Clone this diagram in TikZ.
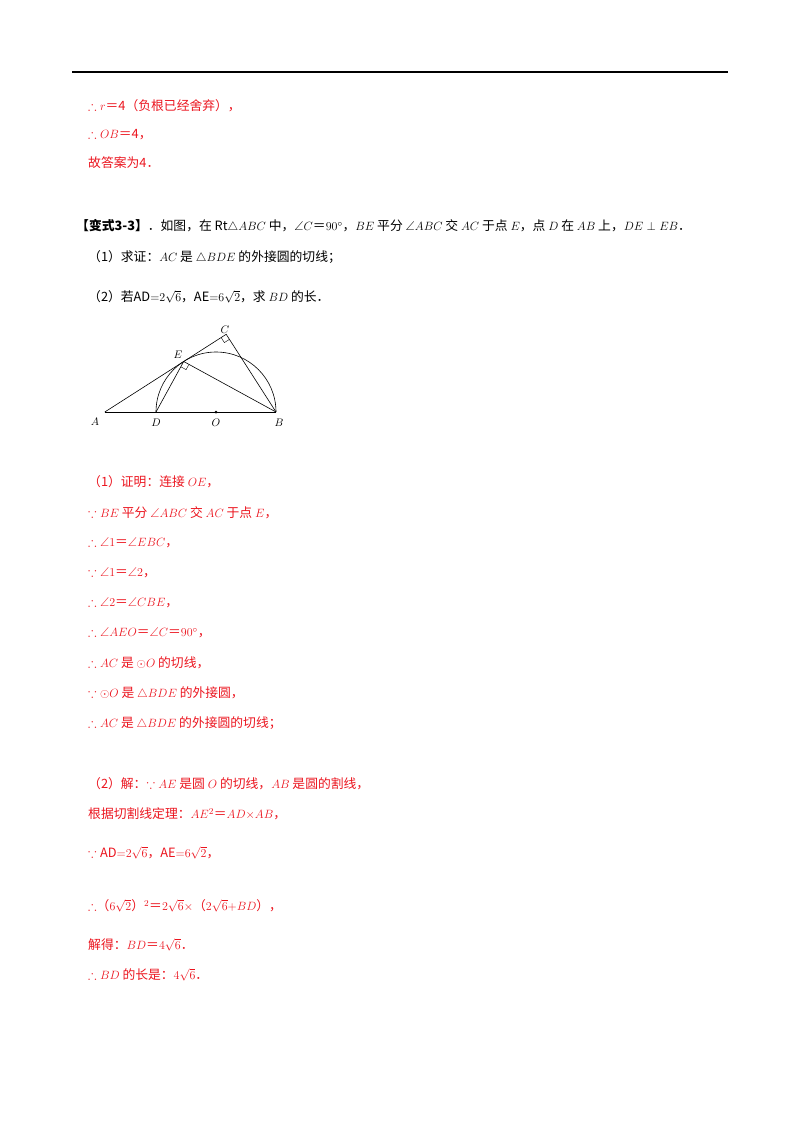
\documentclass[tikz,border=0pt]{standalone}
\usepackage{amssymb}
\usepackage{fontspec}
\setmainfont{Noto Sans CJK SC}
\usetikzlibrary{calc}
\definecolor{ansred}{RGB}{235,20,30}

\begin{document}
\begin{tikzpicture}[x=1pt,y=1pt,
  line/.style={anchor=west,inner sep=0pt,font=\fontsize{12.8}{14}\selectfont},
  ans/.style={line,text=ansred},
  lbl/.style={font=\fontsize{11}{12}\selectfont}]
  \useasboundingbox (0,0) rectangle (800,-1132);

  %--- header rule and previous answer ---
  \draw[line width=1.6pt] (72,-72) -- (728,-72);
  \node[ans] (p1) at (88,-106) {$\therefore r$＝4（负根已经舍弃），};
  \node[ans] (p2) at (88,-135) {$\therefore OB$＝4，};
  \node[ans] (p3) at (88,-163) {故答案为4．};

  %--- problem ---
  \node[line] (q0) at (76,-226) {\textbf{【变式3-3】}．如图，在 $\mathrm{Rt}\triangle ABC$ 中，$\angle C$＝$90^\circ$，$BE$ 平分 $\angle ABC$ 交 $AC$ 于点 $E$，点 $D$ 在 $AB$ 上，$DE\perp EB$．};
  \node[line] (q1) at (88,-257) {（1）求证：$AC$ 是 $\triangle BDE$ 的外接圆的切线；};
  \node[line] (q2) at (88,-297) {（2）若$\mathrm{AD}{=}2\sqrt{6}$，$\mathrm{AE}{=}6\sqrt{2}$，求 $BD$ 的长．};

  %--- figure ---
  \coordinate (O) at (216,-412);
  \coordinate (D) at (156,-412);
  \coordinate (B) at (276,-412);
  \coordinate (E) at (183.7,-361.5);
  \coordinate (A) at (104.8,-412);
  \coordinate (C) at (226.2,-334.3);
  \draw[semithick] (A) -- (B);
  \draw[semithick] (A) -- (C) -- (B);
  \draw[semithick] (D) -- (E) -- (B);
  \draw[semithick] (D) arc (180:0:60);
  \fill (O) circle (1.5);
  \draw ($(E)!6pt!(D)$) -- ($(E)!6pt!(D)+(E)!6pt!(B)-(E)$) -- ($(E)!6pt!(B)$);
  \draw ($(C)!6pt!(A)$) -- ($(C)!6pt!(A)+(C)!6pt!(B)-(C)$) -- ($(C)!6pt!(B)$);
  \node[lbl] at (95,-422) {$A$};
  \node[lbl] at (156,-423) {$D$};
  \node[lbl] at (216,-423) {$O$};
  \node[lbl] at (279,-423) {$B$};
  \node[lbl] at (178,-355) {$E$};
  \node[lbl] at (225,-330) {$C$};

  %--- proof (1) ---
  \node[ans] (a1) at (88,-482) {（1）证明：连接 $OE$，};
  \node[ans] (a2) at (88,-513) {$\because BE$ 平分 $\angle ABC$ 交 $AC$ 于点 $E$，};
  \node[ans] (a3) at (88,-543) {$\therefore\angle1$＝$\angle EBC$，};
  \node[ans] (a4) at (88,-573) {$\because\angle1$＝$\angle2$，};
  \node[ans] (a5) at (88,-603) {$\therefore\angle2$＝$\angle CBE$，};
  \node[ans] (a6) at (88,-633) {$\therefore\angle AEO$＝$\angle C$＝$90^\circ$，};
  \node[ans] (a7) at (88,-663) {$\therefore AC$ 是 $\odot O$ 的切线，};
  \node[ans] (a8) at (88,-693) {$\because\odot O$ 是 $\triangle BDE$ 的外接圆，};
  \node[ans] (a9) at (88,-723) {$\therefore AC$ 是 $\triangle BDE$ 的外接圆的切线；};

  %--- proof (2) ---
  \node[ans] (b1) at (88,-784) {（2）解：$\because AE$ 是圆 $O$ 的切线，$AB$ 是圆的割线，};
  \node[ans] (b2) at (88,-814) {根据切割线定理：$AE^2$＝$AD{\times}AB$，};
  \node[ans] (b3) at (88,-853) {$\because\mathrm{AD}{=}2\sqrt{6}$，$\mathrm{AE}{=}6\sqrt{2}$，};
  \node[ans] (b4) at (88,-906) {$\therefore$（$6\sqrt{2}$）$^2$＝$2\sqrt{6}{\times}$（$2\sqrt{6}{+}BD$），};
  \node[ans] (b5) at (88,-945) {解得：$BD$＝$4\sqrt{6}$．};
  \node[ans] (b6) at (88,-975) {$\therefore BD$ 的长是：$4\sqrt{6}$．};
\end{tikzpicture}
\end{document}
